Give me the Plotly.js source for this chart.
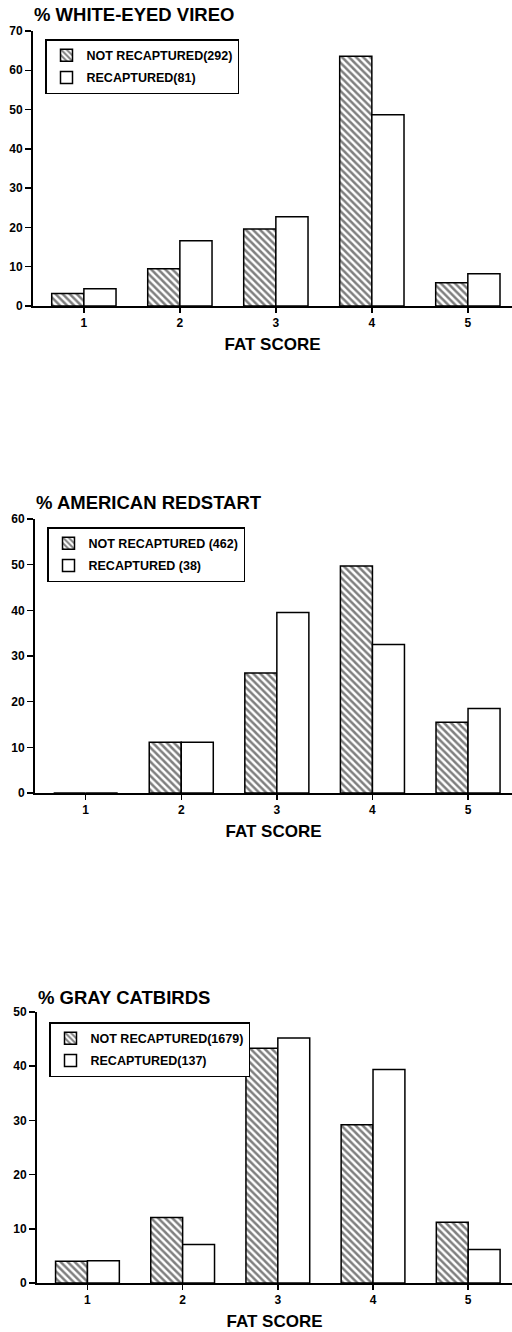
<!DOCTYPE html>
<html>
<head>
<meta charset="utf-8">
<script src="https://cdn.plot.ly/plotly-3.0.1.min.js"></script>
<style>html,body{margin:0;padding:0;background:#fff;}#chart{width:512px;height:1332px;}</style>
</head>
<body>
<div id="chart"></div>
<script>
// ---- data ----
const fatScores = [1, 2, 3, 4, 5];
const tickLabels = ['1', '2', '3', '4', '5'];

const vireoTitle = '% WHITE-EYED VIREO';
const vireoNotName = 'NOT RECAPTURED(292)';
const vireoRecName = 'RECAPTURED(81)';
const vireoNot = [3.2, 9.5, 19.6, 63.6, 5.9];
const vireoRec = [4.4, 16.6, 22.7, 48.7, 8.2];

const redstartTitle = '% AMERICAN REDSTART';
const redstartNotName = 'NOT RECAPTURED (462)';
const redstartRecName = 'RECAPTURED (38)';
const redstartNot = [0, 11.1, 26.3, 49.7, 15.5];
const redstartRec = [0, 11.1, 39.5, 32.5, 18.5];

const catbirdTitle = '% GRAY CATBIRDS';
const catbirdNotName = 'NOT RECAPTURED(1679)';
const catbirdRecName = 'RECAPTURED(137)';
const catbirdNot = [4.0, 12.1, 43.3, 29.2, 11.2];
const catbirdRec = [4.1, 7.1, 45.2, 39.4, 6.2];

const xAxisTitle = 'FAT SCORE';

// ---- layout helpers ----
const H = 1332, W = 512;
const py = p => 1 - p / H;
const px = p => p / W;
const FONT = '"Liberation Sans", Arial, sans-serif';

const hatch = {shape: '\\', size: 5, solidity: 0.5, fgcolor: '#000', bgcolor: '#fff', fillmode: 'overlay'};

function barPair(xa, ya, leg, notVals, recVals, notName, recName) {
  return [
    {type: 'bar', x: fatScores, y: notVals, name: notName, xaxis: xa, yaxis: ya, legend: leg,
     legendgroup: leg + 'a',
     marker: {color: '#fff', pattern: hatch, line: {color: '#000', width: 1.5}}},
    {type: 'bar', x: fatScores, y: recVals, name: recName, xaxis: xa, yaxis: ya, legend: leg,
     legendgroup: leg + 'b',
     marker: {color: '#fff', line: {color: '#000', width: 1.5}}}
  ];
}

const data = [].concat(
  barPair('x', 'y', 'legend', vireoNot, vireoRec, vireoNotName, vireoRecName),
  barPair('x2', 'y2', 'legend2', redstartNot, redstartRec, redstartNotName, redstartRecName),
  barPair('x3', 'y3', 'legend3', catbirdNot, catbirdRec, catbirdNotName, catbirdRecName)
);

function xaxis(left, anchor) {
  return {
    domain: [px(left), 1], anchor: anchor, range: [0.47, 5.46],
    tickvals: fatScores, ticktext: tickLabels,
    showline: true, linecolor: '#000', linewidth: 2,
    ticks: 'outside', ticklen: 5, tickwidth: 1.5, tickcolor: '#000',
    showgrid: false, zeroline: false,
    tickfont: {family: FONT, size: 12, color: '#000', weight: 'bold'},
    title: {text: xAxisTitle, standoff: 9, font: {family: FONT, size: 17, color: '#000', weight: 'bold'}},
    fixedrange: true
  };
}
function yaxis(y0, y1, top, anchor) {
  return {
    domain: [py(y0), py(y1)], anchor: anchor, range: [0, top], dtick: 10,
    showline: true, linecolor: '#000', linewidth: 2,
    ticks: 'outside', ticklen: 6, tickwidth: 1.5, tickcolor: '#000',
    showgrid: false, zeroline: false,
    tickfont: {family: FONT, size: 12, color: '#000', weight: 'bold'},
    fixedrange: true
  };
}
function legend(left, top) {
  return {
    x: px(left), y: py(top), xanchor: 'left', yanchor: 'top',
    bgcolor: '#fff', bordercolor: '#000', borderwidth: 1.5,
    font: {family: FONT, size: 12.5, color: '#000', weight: 'bold'},
    traceorder: 'grouped', tracegroupgap: 3,
    itemwidth: 30
  };
}
function titleAnn(left, yc, text) {
  return {text: text, xref: 'paper', yref: 'paper', x: px(left), y: py(yc),
          xanchor: 'left', yanchor: 'middle', showarrow: false,
          font: {family: FONT, size: 18.5, color: '#000', weight: 'bold'}};
}

const layout = {
  width: W, height: H,
  margin: {l: 0, r: 0, t: 0, b: 0},
  paper_bgcolor: '#fff', plot_bgcolor: '#fff',
  barmode: 'group', bargap: 0.33, bargroupgap: 0,
  xaxis: xaxis(33, 'y'),
  yaxis: yaxis(306, 31, 70, 'x'),
  xaxis2: xaxis(35, 'y2'),
  yaxis2: yaxis(793, 519, 60, 'x2'),
  xaxis3: xaxis(37, 'y3'),
  yaxis3: yaxis(1283, 1012, 50, 'x3'),
  legend: legend(45, 39),
  legend2: legend(47, 527),
  legend3: legend(49, 1022),
  annotations: [
    titleAnn(32, 15, vireoTitle),
    titleAnn(34, 503, redstartTitle),
    titleAnn(36, 997, catbirdTitle)
  ],
  showlegend: true
};

Plotly.newPlot('chart', data, layout, {displayModeBar: false, staticPlot: true});
</script>
</body>
</html>
